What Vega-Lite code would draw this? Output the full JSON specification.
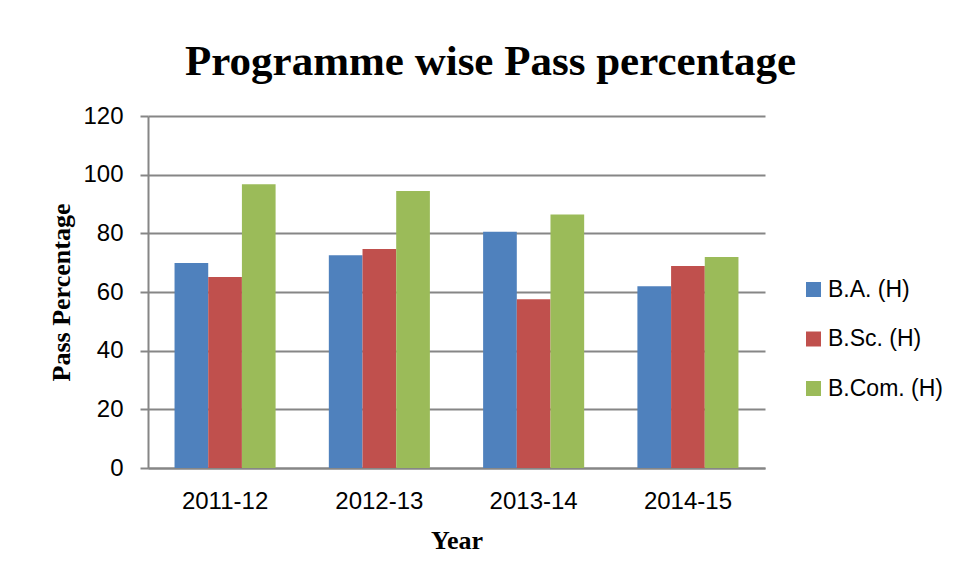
{
  "$schema": "https://vega.github.io/schema/vega-lite/v6.json",
  "autosize": "none",
  "width": 617,
  "height": 352,
  "padding": {"left": 148, "top": 116, "right": 191, "bottom": 114},
  "background": "white",
  "title": {
    "text": "Programme wise Pass percentage",
    "font": "Liberation Serif",
    "fontWeight": "bold",
    "fontSize": 43,
    "color": "#000000",
    "anchor": "middle",
    "dx": 34,
    "offset": 20
  },
  "data": {
    "values": [
      {"year": "2011-12", "programme": "B.A. (H)", "value": 69.9},
      {"year": "2011-12", "programme": "B.Sc. (H)", "value": 65.1},
      {"year": "2011-12", "programme": "B.Com. (H)", "value": 96.7},
      {"year": "2012-13", "programme": "B.A. (H)", "value": 72.5},
      {"year": "2012-13", "programme": "B.Sc. (H)", "value": 74.7},
      {"year": "2012-13", "programme": "B.Com. (H)", "value": 94.4},
      {"year": "2013-14", "programme": "B.A. (H)", "value": 80.5},
      {"year": "2013-14", "programme": "B.Sc. (H)", "value": 57.5},
      {"year": "2013-14", "programme": "B.Com. (H)", "value": 86.4},
      {"year": "2014-15", "programme": "B.A. (H)", "value": 62.0},
      {"year": "2014-15", "programme": "B.Sc. (H)", "value": 68.9},
      {"year": "2014-15", "programme": "B.Com. (H)", "value": 71.9}
    ]
  },
  "mark": {"type": "bar"},
  "encoding": {
    "x": {
      "field": "year",
      "type": "nominal",
      "title": "Year",
      "scale": {"paddingInner": 0.345, "paddingOuter": 0.172},
      "axis": {
        "labelAngle": 0,
        "labelFont": "Liberation Sans",
        "labelFontSize": 24,
        "labelColor": "#000000",
        "labelPadding": 21,
        "ticks": false,
        "domainColor": "#868686",
        "domainWidth": 2,
        "titleFont": "Liberation Serif",
        "titleFontWeight": "bold",
        "titleFontSize": 26,
        "titleColor": "#000000",
        "titlePadding": 14
      }
    },
    "xOffset": {
      "field": "programme",
      "type": "nominal",
      "sort": ["B.A. (H)", "B.Sc. (H)", "B.Com. (H)"],
      "scale": {"paddingInner": 0, "paddingOuter": 0}
    },
    "y": {
      "field": "value",
      "type": "quantitative",
      "title": "Pass Percentage",
      "scale": {"domain": [0, 120], "nice": false},
      "axis": {
        "values": [0, 20, 40, 60, 80, 100, 120],
        "labelFont": "Liberation Sans",
        "labelFontSize": 24,
        "labelColor": "#000000",
        "labelPadding": 17,
        "tickSize": 8,
        "tickColor": "#868686",
        "tickWidth": 2,
        "domainColor": "#868686",
        "domainWidth": 2,
        "grid": true,
        "gridColor": "#868686",
        "gridWidth": 2,
        "titleFont": "Liberation Serif",
        "titleFontWeight": "bold",
        "titleFontSize": 26,
        "titleColor": "#000000",
        "titlePadding": 8
      }
    },
    "color": {
      "field": "programme",
      "type": "nominal",
      "sort": ["B.A. (H)", "B.Sc. (H)", "B.Com. (H)"],
      "scale": {
        "domain": ["B.A. (H)", "B.Sc. (H)", "B.Com. (H)"],
        "range": ["#4F81BD", "#C0504D", "#9BBB59"]
      },
      "legend": {
        "title": null,
        "orient": "none",
        "legendX": 654,
        "legendY": 162,
        "symbolType": "square",
        "symbolSize": 225,
        "symbolStrokeWidth": 0,
        "labelFont": "Liberation Sans",
        "labelFontSize": 23,
        "labelColor": "#000000",
        "labelOffset": 3,
        "rowPadding": 25.5
      }
    }
  },
  "config": {
    "view": {"stroke": null}
  }
}
